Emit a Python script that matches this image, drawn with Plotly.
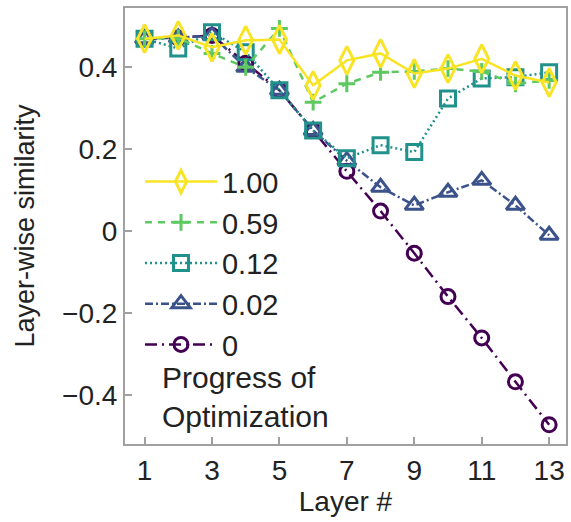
import plotly.graph_objects as go

layers = list(range(1, 14))
labels = ["1.00", "0.59", "0.12", "0.02", "0"]
s_100 = [0.470, 0.478, 0.449, 0.466, 0.468, 0.356, 0.417, 0.434, 0.385, 0.397, 0.421, 0.380, 0.363]
s_059 = [0.470, 0.472, 0.434, 0.400, 0.495, 0.315, 0.360, 0.388, 0.390, 0.397, 0.390, 0.360, 0.368]
s_012 = [0.470, 0.446, 0.486, 0.437, 0.344, 0.246, 0.178, 0.210, 0.193, 0.324, 0.373, 0.376, 0.388]
s_002 = [0.470, 0.472, 0.478, 0.400, 0.344, 0.246, 0.172, 0.107, 0.063, 0.095, 0.124, 0.063, -0.010]
s_000 = [0.470, 0.472, 0.478, 0.410, 0.344, 0.246, 0.146, 0.049, -0.054, -0.160, -0.261, -0.368, -0.473]
x_ticks = [1, 3, 5, 7, 9, 11, 13]
y_ticks = [-0.4, -0.2, 0, 0.2, 0.4]
y_ticktext = ["\u22120.4", "\u22120.2", "0", "0.2", "0.4"]

series = [s_100, s_059, s_012, s_002, s_000]
colors = ["#f8e424", "#5ec962", "#21918c", "#3b528b", "#440154"]
symbols = ["diamond-tall-open", "cross-thin-open", "square-open", "triangle-up-open", "circle-open"]
sizes = [20, 12, 15, 16, 14]
dashes = ["solid", "7px,6px", "2px,3px", "8px,3px,2px,3px", "12px,5px,2px,5px"]

FONT = "Arial, Liberation Sans, sans-serif"
fig = go.Figure()
for i in reversed(range(5)):
    fig.add_trace(go.Scatter(
        x=layers, y=series[i], name=labels[i], mode="lines+markers",
        legendrank=i + 1,
        line=dict(color=colors[i], width=2.5, dash=dashes[i]),
        marker=dict(symbol=symbols[i], size=sizes[i], color=colors[i],
                    line=dict(color=colors[i], width=3)),
    ))

axis_common = dict(showline=True, linecolor="#a0a0a0", linewidth=2, mirror=True,
                   ticks="inside", ticklen=7, tickwidth=1.5, tickcolor="#a0a0a0",
                   showgrid=False, zeroline=False,
                   tickfont=dict(family=FONT, size=28, color="#222"))
fig.update_layout(
    width=571, height=522,
    margin=dict(l=125, r=3, t=8, b=78),
    plot_bgcolor="white", paper_bgcolor="white",
    font=dict(family=FONT, size=28, color="#222"),
    xaxis=dict(range=[0.42, 13.5], tickvals=x_ticks,
               title=dict(text="Layer #", font=dict(size=28), standoff=3), **axis_common),
    yaxis=dict(range=[-0.52, 0.545], tickvals=y_ticks, ticktext=y_ticktext,
               title=dict(text="Layer-wise similarity", font=dict(size=27), standoff=20), **axis_common),
    showlegend=True,
    legend=dict(x=0.034, y=0.66, xanchor="left", yanchor="top", traceorder="normal",
                itemwidth=72, bgcolor="rgba(0,0,0,0)",
                font=dict(family=FONT, size=29, color="#222")),
    annotations=[dict(text="Progress of<br>Optimization", xref="paper", yref="paper",
                      x=0.08, y=0.195, xanchor="left", yanchor="top", align="left",
                      showarrow=False, font=dict(family=FONT, size=30, color="#222"))],
)
fig.write_html("out.html")
